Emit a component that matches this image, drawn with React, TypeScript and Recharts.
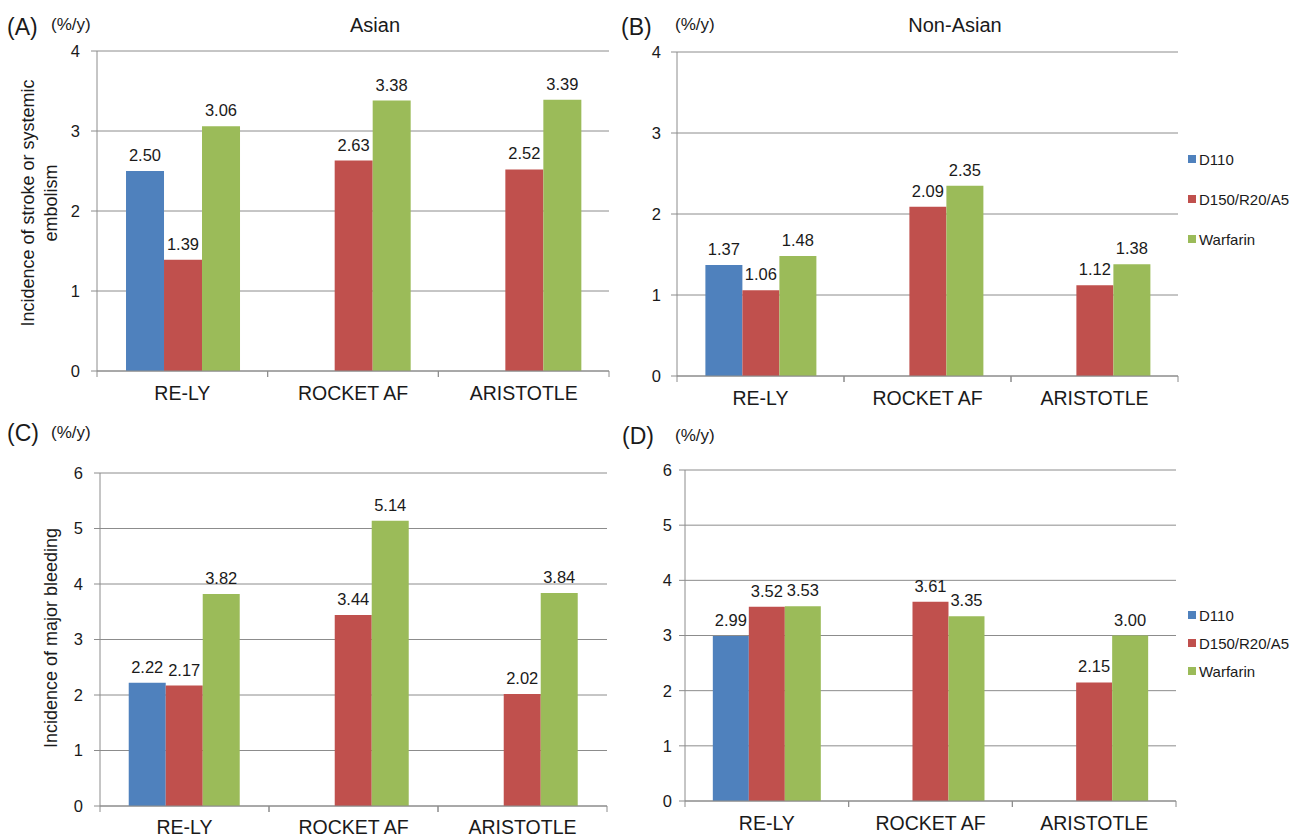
import React from 'react';
import { BarChart, Bar, XAxis, YAxis, CartesianGrid, LabelList } from 'recharts';

const trials = ['RE-LY', 'ROCKET AF', 'ARISTOTLE'];
const seriesKeys = ['d110', 'high', 'warfarin'];
const seriesNames = ['D110', 'D150/R20/A5', 'Warfarin'];
const seriesColors = ['#4F81BD', '#C0504D', '#9BBB59'];

// incidence of stroke or systemic embolism (%/y)
const strokeAsianD110 = [2.5, null, null];
const strokeAsianHigh = [1.39, 2.63, 2.52];
const strokeAsianWarfarin = [3.06, 3.38, 3.39];
const strokeNonAsianD110 = [1.37, null, null];
const strokeNonAsianHigh = [1.06, 2.09, 1.12];
const strokeNonAsianWarfarin = [1.48, 2.35, 1.38];

// incidence of major bleeding (%/y)
const bleedAsianD110 = [2.22, null, null];
const bleedAsianHigh = [2.17, 3.44, 2.02];
const bleedAsianWarfarin = [3.82, 5.14, 3.84];
const bleedNonAsianD110 = [2.99, null, null];
const bleedNonAsianHigh = [3.52, 3.61, 2.15];
const bleedNonAsianWarfarin = [3.53, 3.35, 3.0];

const strokeTicks = [0, 1, 2, 3, 4];
const bleedTicks = [0, 1, 2, 3, 4, 5, 6];

const FONT = '"Liberation Sans", Arial, Helvetica, sans-serif';
const GRID = '#8c8c8c';
const INK = '#1a1a1a';

function toRows(d110: (number | null)[], high: (number | null)[], warfarin: (number | null)[]) {
  return trials.map((trial, i) => ({ trial, d110: d110[i], high: high[i], warfarin: warfarin[i] }));
}

function ValueLabel(props: any) {
  const { x, y, width, value } = props;
  if (value == null) return null;
  return (
    <text x={x + width / 2} y={y - 10} textAnchor="middle" fontSize={16.5} fill={INK} fontFamily={FONT}>
      {Number(value).toFixed(2)}
    </text>
  );
}

// category label plus Excel-style tick marks on the band edges
function makeCategoryTick(gap: number) {
  return function CategoryTick(props: any) {
    const { x, y, payload } = props;
    const half = payload && payload.offset ? payload.offset : 0;
    const axisY = y - gap;
    return (
      <g>
        {half > 0 && (
          <>
            <line x1={x - half} x2={x - half} y1={axisY} y2={axisY + 6} stroke={GRID} />
            <line x1={x + half} x2={x + half} y1={axisY} y2={axisY + 6} stroke={GRID} />
          </>
        )}
        <text x={x} y={y} dy="0.71em" textAnchor="middle" fontSize={19.5} fill={INK} fontFamily={FONT}>
          {payload.value}
        </text>
      </g>
    );
  };
}

function Panel({ rows, ticks, left, top, width, height, margin, yWidth, yTickMargin, xTickMargin }: any) {
  return (
    <div style={{ position: 'absolute', left, top }}>
      <BarChart width={width} height={height} data={rows} margin={margin} barGap={0} barCategoryGap="17%">
        <CartesianGrid vertical={false} stroke={GRID} />
        <XAxis
          dataKey="trial"
          interval={0}
          axisLine={{ stroke: GRID }}
          tickLine={false}
          tickSize={0}
          tickMargin={xTickMargin}
          height={1}
          tick={makeCategoryTick(xTickMargin)}
        />
        <YAxis
          domain={[0, ticks[ticks.length - 1]]}
          ticks={ticks}
          interval={0}
          width={yWidth}
          axisLine={{ stroke: GRID }}
          tickLine={{ stroke: GRID }}
          tickSize={6}
          tickMargin={yTickMargin}
          tick={{ fontSize: 16.5, fill: INK, fontFamily: FONT }}
        />
        {seriesKeys.map((k, i) => (
          <Bar key={k} dataKey={k} fill={seriesColors[i]} isAnimationActive={false}>
            <LabelList dataKey={k} content={ValueLabel} />
          </Bar>
        ))}
      </BarChart>
    </div>
  );
}

function LegendBox({ left, top, gap }: { left: number; top: number; gap: number }) {
  return (
    <div style={{ position: 'absolute', left, top, fontFamily: FONT, fontSize: 15, color: INK }}>
      {seriesNames.map((name, i) => (
        <div key={name} style={{ display: 'flex', alignItems: 'center', height: 16, marginBottom: gap - 16, whiteSpace: 'nowrap' }}>
          <span style={{ display: 'inline-block', width: 8, height: 8, background: seriesColors[i], marginRight: 3 }} />
          <span>{name}</span>
        </div>
      ))}
    </div>
  );
}

export default function App() {
  return (
    <div style={{ position: 'absolute', left: 0, top: 0, width: 1299, height: 837, background: '#fff', overflow: 'hidden' }}>
      <Panel
        rows={toRows(strokeAsianD110, strokeAsianHigh, strokeAsianWarfarin)}
        ticks={strokeTicks}
        left={0}
        top={0}
        width={640}
        height={420}
        margin={{ top: 51, right: 31, bottom: 48, left: 0 }}
        yWidth={97}
        yTickMargin={11}
        xTickMargin={15}
      />
      <Panel
        rows={toRows(strokeNonAsianD110, strokeNonAsianHigh, strokeNonAsianWarfarin)}
        ticks={strokeTicks}
        left={640}
        top={0}
        width={659}
        height={420}
        margin={{ top: 52, right: 121, bottom: 43, left: 0 }}
        yWidth={37}
        yTickMargin={10}
        xTickMargin={15}
      />
      <Panel
        rows={toRows(bleedAsianD110, bleedAsianHigh, bleedAsianWarfarin)}
        ticks={bleedTicks}
        left={0}
        top={420}
        width={640}
        height={417}
        margin={{ top: 53, right: 33, bottom: 30, left: 0 }}
        yWidth={100}
        yTickMargin={11}
        xTickMargin={14}
      />
      <Panel
        rows={toRows(bleedNonAsianD110, bleedNonAsianHigh, bleedNonAsianWarfarin)}
        ticks={bleedTicks}
        left={640}
        top={420}
        width={659}
        height={417}
        margin={{ top: 50, right: 123, bottom: 35, left: 0 }}
        yWidth={45}
        yTickMargin={7}
        xTickMargin={15}
      />

      <LegendBox left={1188} top={151} gap={40} />
      <LegendBox left={1188} top={607} gap={28} />

      <svg width={1299} height={837} style={{ position: 'absolute', left: 0, top: 0, pointerEvents: 'none' }} fontFamily={FONT} fill={INK}>
        <text x={7} y={35} fontSize={23}>(A)</text>
        <text x={51} y={30} fontSize={17}>(%/y)</text>
        <text x={375} y={32} fontSize={20} textAnchor="middle">Asian</text>

        <text x={621} y={35} fontSize={23}>(B)</text>
        <text x={675} y={30} fontSize={17}>(%/y)</text>
        <text x={955} y={32} fontSize={20} textAnchor="middle">Non-Asian</text>

        <text x={7} y={441} fontSize={23}>(C)</text>
        <text x={51} y={438} fontSize={17}>(%/y)</text>

        <text x={622} y={444} fontSize={23}>(D)</text>
        <text x={675} y={441} fontSize={17}>(%/y)</text>

        <text transform="rotate(-90 28 203)" x={28} y={203} fontSize={18} textAnchor="middle" dominantBaseline="central">
          Incidence of stroke or systemic
        </text>
        <text transform="rotate(-90 51 203)" x={51} y={203} fontSize={18} textAnchor="middle" dominantBaseline="central">
          embolism
        </text>
        <text transform="rotate(-90 51 638)" x={51} y={638} fontSize={18} textAnchor="middle" dominantBaseline="central">
          Incidence of major bleeding
        </text>
      </svg>
    </div>
  );
}
